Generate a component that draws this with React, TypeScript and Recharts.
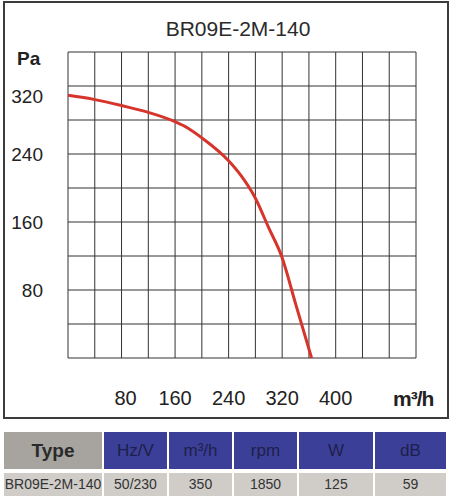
import React from 'react';
import { LineChart, Line, XAxis, YAxis, CartesianGrid } from 'recharts';

const flow = [0, 40, 80, 120, 160, 180, 200, 240, 260, 280, 300, 320, 340, 364];
const pressure = [309, 304, 297, 289, 278, 270, 259, 232, 213, 188, 153, 118, 64, 0];

const xTicks = [0, 40, 80, 120, 160, 200, 240, 280, 320, 360, 400, 440, 480, 520];
const yTicks = [0, 40, 80, 120, 160, 200, 240, 280, 320, 360];
const xLabels = [80, 160, 240, 320, 400];
const yLabels = [80, 160, 240, 320];

const tableHeaders = ['Type', 'Hz/V', 'm³/h', 'rpm', 'W', 'dB'];
const tableValues = ['BR09E-2M-140', '50/230', '350', '1850', '125', '59'];
const colWidths = [98, 63, 63, 63, 74, 71];

const data = flow.map((q, i) => ({ q, p: pressure[i] }));

const FONT = '"Liberation Sans", Arial, sans-serif';

const XTick = (props: any) => {
  const v = props.payload.value;
  if (!xLabels.includes(v)) return null;
  return (
    <text x={props.x + (v === 80 ? 4 : 0)} y={405} textAnchor="middle" fontSize={20} fill="#222" fontFamily={FONT}>
      {v}
    </text>
  );
};

const YTick = (props: any) => {
  const v = props.payload.value;
  if (!yLabels.includes(v)) return null;
  // top label sits a bit lower in the original
  const y = props.y + (v === 320 ? 10 : 0);
  return (
    <text x={43} y={y} dy={7} textAnchor="end" fontSize={19} fill="#222" fontFamily={FONT}>
      {v}
    </text>
  );
};

const App = () => {
  let left = 4;
  const cells = colWidths.map((w) => {
    const c = left;
    left += w + 2;
    return c;
  });
  return (
    <div style={{ position: 'absolute', left: 0, top: 0, width: 451, height: 500, background: '#fff', fontFamily: FONT }}>
      <div style={{ position: 'absolute', left: 3, top: 1, width: 446, height: 418, boxSizing: 'border-box', border: '2px solid #3c3c3c' }} />
      <div style={{ position: 'absolute', left: 0, top: 17, width: 476, textAlign: 'center', fontSize: 21, color: '#2a2a2a' }}>
        BR09E-2M-140
      </div>
      <div style={{ position: 'absolute', left: 17, top: 48, fontSize: 19, fontWeight: 'bold', color: '#222' }}>Pa</div>
      <div style={{ position: 'absolute', left: 393, top: 387, fontSize: 21, fontWeight: 'bold', color: '#222', whiteSpace: 'nowrap', letterSpacing: -1 }}>
        m³/h
      </div>
      <div style={{ position: 'absolute', left: 0, top: 0 }}>
        <LineChart width={451} height={420} data={data} margin={{ top: 52, right: 35, left: 0, bottom: 12 }}>
          <CartesianGrid stroke="#333" strokeWidth={1} />
          <XAxis
            dataKey="q"
            type="number"
            domain={[0, 520]}
            ticks={xTicks}
            axisLine={false}
            tickLine={false}
            height={50}
            tick={<XTick />}
            interval={0}
          />
          <YAxis
            type="number"
            domain={[0, 360]}
            ticks={yTicks}
            axisLine={false}
            tickLine={false}
            width={68}
            tick={<YTick />}
            interval={0}
          />
          <Line type="monotone" dataKey="p" stroke="#d6352c" strokeWidth={3} dot={false} isAnimationActive={false} />
        </LineChart>
      </div>
      {tableHeaders.map((h, i) => (
        <div
          key={'h' + i}
          style={{
            position: 'absolute',
            left: cells[i],
            top: 432,
            width: colWidths[i],
            height: 37,
            lineHeight: '37px',
            textAlign: 'center',
            background: i === 0 ? '#a7a39e' : '#3c3f98',
            color: i === 0 ? '#2a2a2a' : '#1c1f4a',
            fontSize: i === 0 ? 19 : 17,
            fontWeight: i === 0 ? 'bold' : 'normal',
            whiteSpace: 'nowrap',
          }}
        >
          {h}
        </div>
      ))}
      {tableValues.map((v, i) => (
        <div
          key={'v' + i}
          style={{
            position: 'absolute',
            left: cells[i],
            top: 473,
            width: colWidths[i],
            height: 23,
            lineHeight: '23px',
            textAlign: 'center',
            background: '#d0cdc9',
            color: '#333',
            fontSize: 14,
            whiteSpace: 'nowrap',
            overflow: 'visible',
          }}
        >
          {v}
        </div>
      ))}
    </div>
  );
};

export default App;
